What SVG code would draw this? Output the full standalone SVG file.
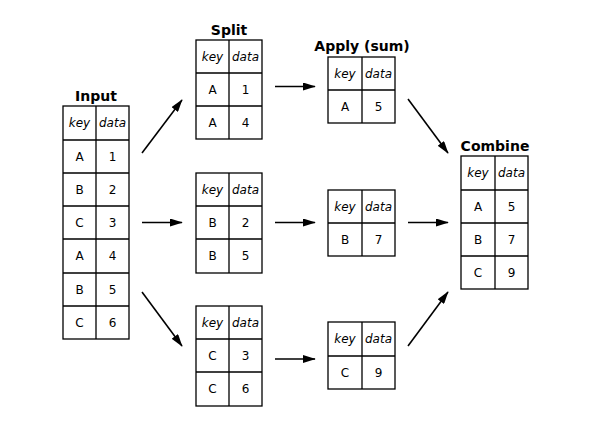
<svg xmlns="http://www.w3.org/2000/svg" width="590" height="446" viewBox="0 0 590 446">
<style>
.c{fill:#fff;stroke:#000;stroke-width:1.3}
.t{font-family:"DejaVu Sans",sans-serif;font-size:12px;fill:#000;text-anchor:middle;dominant-baseline:central}
.h{font-style:italic}
.ti{font-family:"DejaVu Sans",sans-serif;font-size:14px;font-weight:bold;fill:#000;text-anchor:middle}
.a{stroke:#000;stroke-width:1.6;fill:none;marker-end:url(#ah)}
</style>
<defs>
<marker id="ah" markerWidth="8" markerHeight="5" refX="7.5" refY="2.5" orient="auto" markerUnits="strokeWidth">
<path d="M0,0 L8,2.5 L0,5 Z" fill="#000"/>
</marker>
</defs>
<rect width="590" height="446" fill="#fff"/>

<g id="input">
<text class="ti" x="96" y="101">Input</text>
<rect class="c" x="63" y="106" width="66" height="233"/>
<path class="c" d="M96,106V339M63,140H129M63,173H129M63,206H129M63,239H129M63,273H129M63,306H129"/>
<text class="t h" x="79.5" y="123">key</text><text class="t h" x="112.5" y="123">data</text>
<text class="t" x="79.5" y="156.5">A</text><text class="t" x="112.5" y="156.5">1</text>
<text class="t" x="79.5" y="189.5">B</text><text class="t" x="112.5" y="189.5">2</text>
<text class="t" x="79.5" y="222.5">C</text><text class="t" x="112.5" y="222.5">3</text>
<text class="t" x="79.5" y="256">A</text><text class="t" x="112.5" y="256">4</text>
<text class="t" x="79.5" y="289.5">B</text><text class="t" x="112.5" y="289.5">5</text>
<text class="t" x="79.5" y="322.5">C</text><text class="t" x="112.5" y="322.5">6</text>
</g>

<g id="split-a">
<text class="ti" x="229" y="35">Split</text>
<rect class="c" x="196" y="40" width="66" height="99"/>
<path class="c" d="M229,40V139M196,73H262M196,106H262"/>
<text class="t h" x="212.5" y="57">key</text><text class="t h" x="245.5" y="57">data</text>
<text class="t" x="212.5" y="90">A</text><text class="t" x="245.5" y="90">1</text>
<text class="t" x="212.5" y="123">A</text><text class="t" x="245.5" y="123">4</text>
</g>

<g id="split-b">
<rect class="c" x="196" y="173" width="66" height="100"/>
<path class="c" d="M229,173V273M196,206H262M196,239H262"/>
<text class="t h" x="212.5" y="189.5">key</text><text class="t h" x="245.5" y="189.5">data</text>
<text class="t" x="212.5" y="222.5">B</text><text class="t" x="245.5" y="222.5">2</text>
<text class="t" x="212.5" y="256">B</text><text class="t" x="245.5" y="256">5</text>
</g>

<g id="split-c">
<rect class="c" x="196" y="306" width="66" height="100"/>
<path class="c" d="M229,306V406M196,339H262M196,372H262"/>
<text class="t h" x="212.5" y="322.5">key</text><text class="t h" x="245.5" y="322.5">data</text>
<text class="t" x="212.5" y="355.5">C</text><text class="t" x="245.5" y="355.5">3</text>
<text class="t" x="212.5" y="389">C</text><text class="t" x="245.5" y="389">6</text>
</g>

<g id="apply-a">
<text class="ti" x="362" y="51">Apply (sum)</text>
<rect class="c" x="328" y="57" width="67" height="66"/>
<path class="c" d="M362,57V123M328,90H395"/>
<text class="t h" x="345" y="73.5">key</text><text class="t h" x="378.5" y="73.5">data</text>
<text class="t" x="345" y="106.5">A</text><text class="t" x="378.5" y="106.5">5</text>
</g>

<g id="apply-b">
<rect class="c" x="328" y="190" width="67" height="66"/>
<path class="c" d="M362,190V256M328,223H395"/>
<text class="t h" x="345" y="206.5">key</text><text class="t h" x="378.5" y="206.5">data</text>
<text class="t" x="345" y="239.5">B</text><text class="t" x="378.5" y="239.5">7</text>
</g>

<g id="apply-c">
<rect class="c" x="328" y="322" width="67" height="67"/>
<path class="c" d="M362,322V389M328,356H395"/>
<text class="t h" x="345" y="339">key</text><text class="t h" x="378.5" y="339">data</text>
<text class="t" x="345" y="372.5">C</text><text class="t" x="378.5" y="372.5">9</text>
</g>

<g id="combine">
<text class="ti" x="495" y="151">Combine</text>
<rect class="c" x="461" y="156" width="67" height="133"/>
<path class="c" d="M495,156V289M461,190H528M461,223H528M461,256H528"/>
<text class="t h" x="478" y="173">key</text><text class="t h" x="511.5" y="173">data</text>
<text class="t" x="478" y="206.5">A</text><text class="t" x="511.5" y="206.5">5</text>
<text class="t" x="478" y="239.5">B</text><text class="t" x="511.5" y="239.5">7</text>
<text class="t" x="478" y="272.5">C</text><text class="t" x="511.5" y="272.5">9</text>
</g>

<g id="connectors">
<path class="a" d="M142,153L182,100"/>
<path class="a" d="M142,222.5L182,222.5"/>
<path class="a" d="M142,292L182,346"/>
<path class="a" d="M275,86.5L315,86.5"/>
<path class="a" d="M275,222.5L315,222.5"/>
<path class="a" d="M275,359L315,359"/>
<path class="a" d="M408,99L448,153"/>
<path class="a" d="M408,222.5L448,222.5"/>
<path class="a" d="M408,346L448,292"/>
</g>
</svg>
